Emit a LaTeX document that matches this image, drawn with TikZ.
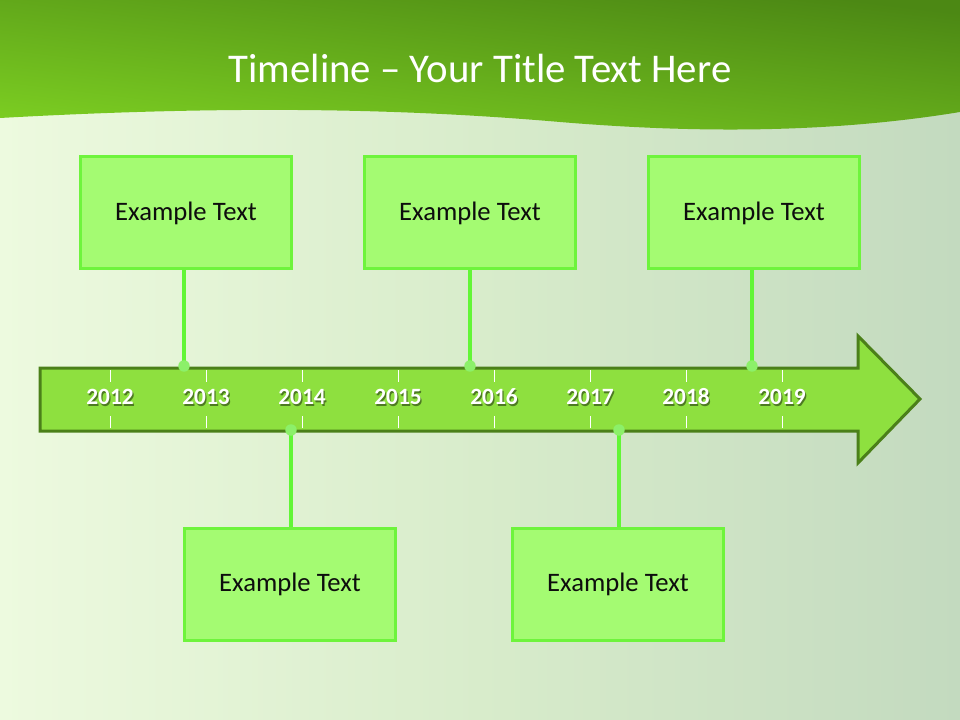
\documentclass[tikz,border=0pt]{standalone}
\usepackage{fontspec}
\setmainfont{Carlito}
\definecolor{bgL}{HTML}{EDFADF}
\definecolor{bgM}{HTML}{D8ECCB}
\definecolor{bgR}{HTML}{C3DABF}
\definecolor{bandTop}{HTML}{4C8814}
\definecolor{bandBot}{HTML}{7CCE22}
\definecolor{arrFill}{HTML}{8EE03F}
\definecolor{arrLine}{HTML}{4B8019}
\definecolor{boxFill}{HTML}{A4FB72}
\definecolor{boxLine}{HTML}{6EF43C}
\definecolor{connLine}{HTML}{62F636}
\definecolor{dotFill}{HTML}{8CF06A}
\tikzset{
  ebox/.style={draw=boxLine, line width=2.25pt, fill=boxFill, minimum width=158pt, minimum height=84pt, inner sep=0pt, font=\fontsize{20}{24}\selectfont, text=black!95},
  conn/.style={draw=connLine, line width=3.2pt},
  tdot/.style={fill=dotFill},
  tick/.style={draw=white, line width=0.7pt},
  yearlab/.style={font=\fontsize{17.5}{20}\selectfont\bfseries, text=white, inner sep=0pt},
  yearshadow/.style={font=\fontsize{17.5}{20}\selectfont\bfseries, text=black, opacity=0.45, inner sep=0pt},
}
\begin{document}
\begin{tikzpicture}[x=0.75pt,y=-0.75pt]
\useasboundingbox (0,0) rectangle (960,720);
% background
\shade[left color=bgL, right color=bgR, middle color=bgM] (0,0) rectangle (960,720);
% top band
\shade[top color=bandTop, bottom color=bandBot, shading angle=-7]
  (0,0) -- (960,0) -- (960,112) .. controls (820,135) and (680,132) .. (560,122)
  .. controls (420,110) and (250,104) .. (0,118) -- cycle;
\node[text=white, font=\fontsize{30.6}{36}\selectfont, inner sep=0pt] (title) at (480,68) {Timeline – Your Title Text Here};
% arrow
\draw[fill=arrFill, draw=arrLine, line width=2.25pt, line join=miter]
  (40,368) -- (858,368) -- (858,336) -- (920,399) -- (858,463) -- (858,431) -- (40,431) -- cycle;
% ticks and years
\foreach \yr [count=\i from 0] in {2012,2013,2014,2015,2016,2017,2018,2019} {
  \pgfmathsetmacro{\xx}{110+96*\i}
  \draw[tick] (\xx,370) -- (\xx,382);
  \draw[tick] (\xx,416) -- (\xx,428);
  \node[yearshadow] at (\xx+1.3,398.5) {\yr};
  \node[yearlab] (y\yr) at (\xx,397) {\yr};
}
% boxes
\node[ebox] (b1) at (186,213) {Example Text};
\node[ebox] (b2) at (470,213) {Example Text};
\node[ebox] (b3) at (754,213) {Example Text};
\node[ebox] (b4) at (290,584) {Example Text};
\node[ebox] (b5) at (618,584) {Example Text};
% connector ends
\coordinate (d1) at (184,366);
\coordinate (d2) at (470,366);
\coordinate (d3) at (752,366);
\coordinate (d4) at (291,430);
\coordinate (d5) at (619,430);
\draw[conn] (b1.south -| d1) -- (d1);
\draw[conn] (b2.south -| d2) -- (d2);
\draw[conn] (b3.south -| d3) -- (d3);
\draw[conn] (b4.north -| d4) -- (d4);
\draw[conn] (b5.north -| d5) -- (d5);
\foreach \d in {d1,d2,d3,d4,d5} \fill[tdot] (\d) circle (4.3pt);
\end{tikzpicture}
\end{document}
